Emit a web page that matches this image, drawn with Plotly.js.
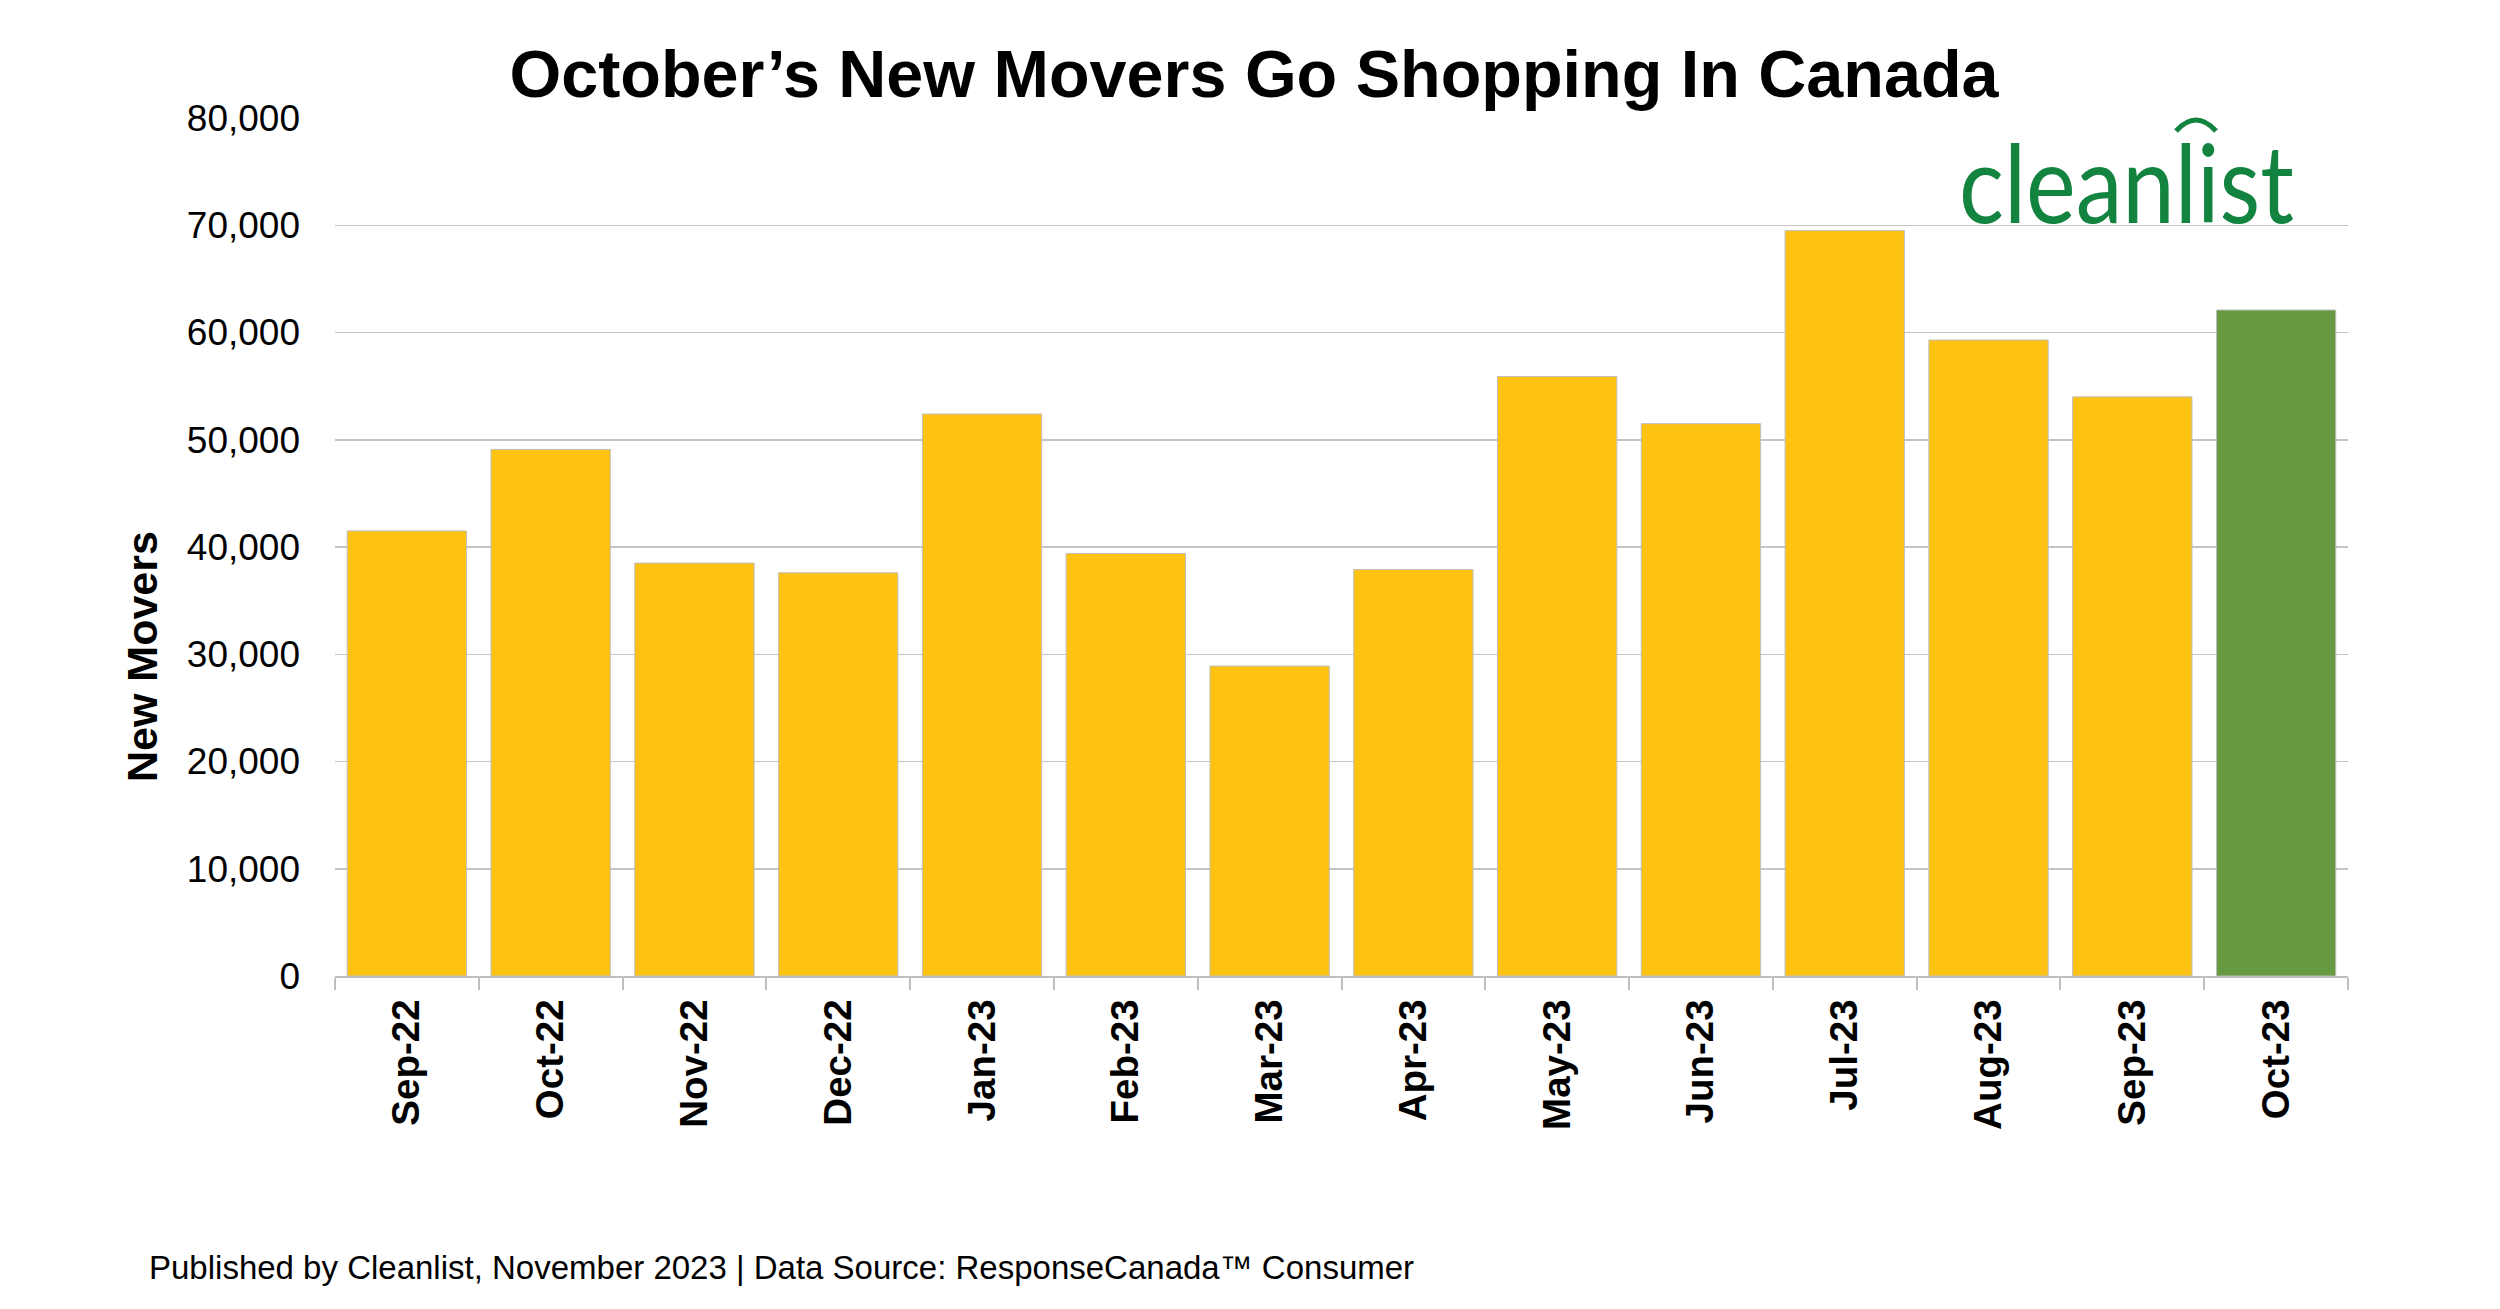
<!DOCTYPE html>
<html>
<head>
<meta charset="utf-8">
<script src="https://cdn.plot.ly/plotly-3.0.1.min.js"></script>
<style>
  html, body { margin: 0; padding: 0; background: #ffffff; }
  #chart { width: 2500px; height: 1309px; }
</style>
</head>
<body>
<div id="chart"></div>
<script>
// Monthly new movers in Canada, Sep 2022 – Oct 2023
const months = ['Sep-22', 'Oct-22', 'Nov-22', 'Dec-22', 'Jan-23', 'Feb-23', 'Mar-23',
                'Apr-23', 'May-23', 'Jun-23', 'Jul-23', 'Aug-23', 'Sep-23', 'Oct-23'];
const movers = [41500, 49100, 38500, 37600, 52400, 39400, 28900,
                37900, 55900, 51500, 69500, 59300, 54000, 62100];
const yTicks = [0, 10000, 20000, 30000, 40000, 50000, 60000, 70000, 80000];

const GOLD = '#FEC212';
const GREEN = '#679940';
const LOGO_GREEN = '#13843F';
const GRID = '#C4C4C4';
const AXIS = '#BFBFBF';
const FONT = 'Liberation Sans, Arial, Helvetica, sans-serif';

// the latest month is highlighted
const barColors = months.map((m, i) => i === months.length - 1 ? GREEN : GOLD);

const W = 2500, H = 1309;
const margin = { l: 335, r: 152, t: 118, b: 333 };
const plotW = W - margin.l - margin.r;
const plotH = H - margin.t - margin.b;
// pixel -> paper helpers for decorations outside the data
const px = x => (x - margin.l) / plotW;
const py = y => (H - margin.b - y) / plotH;

const trace = {
  type: 'bar',
  x: months,
  y: movers,
  marker: { color: barColors, line: { color: AXIS, width: 1 } },
  hoverinfo: 'x+y'
};

const layout = {
  width: W,
  height: H,
  margin: margin,
  paper_bgcolor: '#ffffff',
  plot_bgcolor: '#ffffff',
  bargap: 0.17,
  showlegend: false,
  font: { family: FONT, color: '#000000' },
  title: {
    text: '<b>October’s New Movers Go Shopping In Canada</b>',
    font: { family: FONT, size: 66.5, color: '#000000' },
    xref: 'container', x: 0.5016, xanchor: 'center',
    yref: 'container', y: 1 - 74 / H, yanchor: 'middle'
  },
  xaxis: {
    type: 'category',
    showgrid: false,
    showline: true, linecolor: AXIS, linewidth: 2,
    ticks: 'outside', tickson: 'boundaries', ticklen: 12, tickwidth: 2, tickcolor: AXIS,
    tickangle: -90,
    tickfont: { family: FONT, size: 38.5, color: '#000000', weight: 'bold' },
    ticklabelstandoff: 6
  },
  yaxis: {
    range: [0, 80000],
    tickvals: yTicks,
    tickformat: ',d',
    showgrid: true, gridcolor: GRID, gridwidth: 1.5,
    zeroline: false,
    showline: false,
    ticks: '',
    tickfont: { family: FONT, size: 37, color: '#000000' },
    ticklabelstandoff: 34
  },
  annotations: [
    {
      text: '<b>New Movers</b>',
      xref: 'paper', yref: 'paper',
      x: px(142), y: py(657),
      xanchor: 'center', yanchor: 'middle',
      textangle: -90, showarrow: false,
      font: { family: FONT, size: 43, color: '#000000' }
    },
    {
      text: 'Published by Cleanlist, November 2023 | Data Source: ResponseCanada™ Consumer',
      xref: 'paper', yref: 'paper',
      x: px(147), y: py(1267),
      xanchor: 'left', yanchor: 'middle',
      showarrow: false,
      font: { family: FONT, size: 33, color: '#000000' }
    },
    {
      text: 'cleanlist',
      xref: 'paper', yref: 'paper',
      x: px(2126), y: py(181),
      xanchor: 'center', yanchor: 'middle',
      showarrow: false,
      font: { family: 'Lato, Open Sans, sans-serif', size: 108, color: LOGO_GREEN }
    }
  ],
  shapes: [
    {
      // arc above the logo's second "l"
      type: 'path', xref: 'paper', yref: 'paper',
      path: 'M ' + px(2176) + ',' + py(131) + ' Q ' + px(2196) + ',' + py(109) + ' ' + px(2216) + ',' + py(131),
      line: { color: LOGO_GREEN, width: 5 },
      layer: 'above'
    }
  ]
};

Plotly.newPlot('chart', [trace], layout, { displayModeBar: false, staticPlot: true }).then(gd => {
  // the wordmark is set in a narrow cut: compress it about its own centre
  gd.querySelectorAll('.annotation-text').forEach(t => {
    if (t.textContent === 'cleanlist') {
      t.style.transformBox = 'fill-box';
      t.style.transformOrigin = 'center';
      t.style.transform = 'scaleX(0.87)';
    }
  });
});
</script>
</body>
</html>
